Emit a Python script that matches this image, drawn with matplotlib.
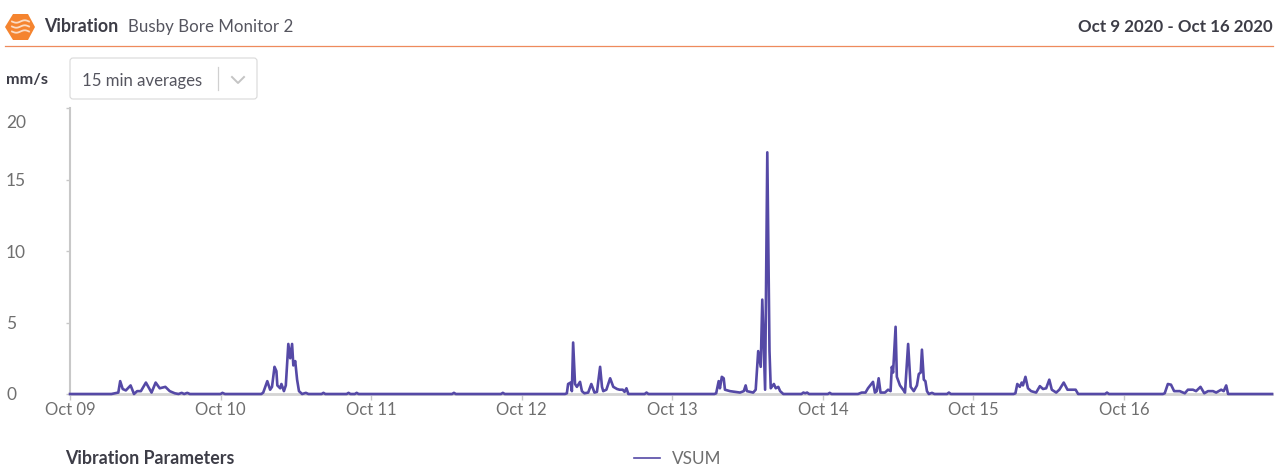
# plot.py - vibration monitor chart

import numpy as np
import pandas as pd
import matplotlib
matplotlib.use("Agg")
import matplotlib.pyplot as plt
import matplotlib.dates as mdates
from matplotlib.patches import FancyBboxPatch, Polygon
from matplotlib.transforms import ScaledTranslation

plt.rcParams["font.family"] = ["Lato", "DejaVu Sans"]

# hours since Oct 09 00:00
hours_day1 = [0, 6.6, 7.7, 8.0, 8.4, 8.9, 9.66, 10.2, 10.7, 11.3, 12.1, 12.75, 13.0, 13.65,
              14.3, 15.2, 15.9, 16.7, 17.3, 17.8, 18.2, 18.7, 19.1]
vsum_day1 = [0, 0, 0.1, 0.9, 0.35, 0.25, 0.6, 0, 0.2, 0.2, 0.8, 0.3, 0.1, 0.8,
             0.4, 0.5, 0.2, 0.05, 0, 0.08, 0, 0.08, 0]

hours_day2 = [24.0, 24.3, 24.7, 30.5, 30.8, 31.45, 31.9, 32.2, 32.6, 32.9, 33.05, 33.5, 33.7, 34.1,
              34.4, 34.8, 35.1, 35.4, 35.6, 35.9, 36.2, 36.5, 37.0, 37.6, 38.0, 40.1, 40.4, 40.7,
              44.1, 44.4, 44.7, 45.4, 45.7, 46.0]
vsum_day2 = [0, 0.08, 0, 0, 0.1, 0.9, 0.3, 0.5, 1.9, 1.6, 0.6, 0.4, 0.7, 0.2,
             0.6, 3.5, 2.5, 3.5, 2.0, 2.3, 1.0, 0.2, 0, 0.08, 0, 0, 0.08, 0,
             0, 0.08, 0, 0, 0.08, 0]

hours_day3 = [60.9, 61.2, 61.5, 68.7, 69.0, 69.3, 78.9, 79.2, 79.4, 79.8, 80.0, 80.2, 80.5, 80.8,
              81.3, 81.6, 82.0, 82.6, 83.1, 83.6, 84.0, 84.5, 84.8, 85.0, 85.5, 86.1, 86.6, 87.2,
              87.6, 88.1, 88.4, 88.7, 89.0, 91.6, 91.9, 92.2]
vsum_day3 = [0, 0.08, 0, 0, 0.08, 0, 0, 0.05, 0.7, 0.8, 0.2, 3.6, 0.7, 0.5,
             0.85, 0.2, 0.05, 0.1, 0.7, 0.1, 0.15, 1.9, 0.5, 0.2, 0.3, 1.1, 0.5, 0.35,
             0.3, 0.3, 0.15, 0.4, 0, 0, 0.1, 0]

hours_day4 = [102.7, 103.0, 103.4, 103.6, 103.9, 104.2, 104.4, 105.2, 106.8, 107.4, 107.7, 107.9,
              108.9, 109.3, 109.7, 110.1, 110.35, 110.8, 111.15, 111.5, 111.7, 112.2, 112.5,
              112.9, 113.2, 113.7, 116.6, 116.9, 117.2, 117.5, 117.8, 120.8, 121.1, 121.4]
vsum_day4 = [0, 0.05, 0.9, 0.4, 1.2, 1.1, 0.3, 0.2, 0.1, 0.2, 0.6, 0.2,
             0.1, 0.3, 3.0, 1.9, 6.6, 0.3, 16.9, 3.0, 0.4, 0.7, 0.4,
             0.5, 0.2, 0, 0, 0.1, 0.05, 0.1, 0, 0, 0.08, 0]

hours_day5 = [125.6, 125.9, 126.2, 126.8, 127.2, 128.0, 128.3, 128.6, 128.9, 129.2, 129.9, 130.4,
              130.8, 131.0, 131.2, 131.6, 131.8, 132.3, 132.8, 133.1, 133.6, 134.0, 134.5, 135.0,
              135.3, 135.6, 135.8, 136.1, 136.35, 136.6, 136.9, 137.4, 137.8, 139.8, 140.1, 140.4]
vsum_day5 = [0, 0.05, 0.1, 0.1, 0.4, 0.85, 0.1, 0.2, 1.1, 0.1, 0.1, 0.3,
             0.2, 1.9, 1.5, 4.7, 1.2, 0.6, 0.3, 0.1, 3.5, 0.5, 0.2, 0.6,
             1.4, 1.5, 3.1, 1.0, 0.9, 0.2, 0, 0.08, 0, 0, 0.1, 0]

hours_day6 = [150.4, 150.7, 151.0, 151.4, 151.7, 151.9, 152.3, 152.7, 153.2, 154.0, 154.6, 155.1,
              155.6, 156.1, 156.5, 157.2, 157.7, 158.4, 159.0, 159.6, 160.3, 160.7, 165.0, 165.3, 165.6]
vsum_day6 = [0, 0.05, 0.7, 0.5, 0.8, 0.6, 1.2, 0.4, 0.2, 0.1, 0.55, 0.35,
             0.4, 1.0, 0.3, 0.1, 0.3, 0.8, 0.3, 0.3, 0.3, 0, 0, 0.1, 0]

hours_day7 = [174.2, 174.5, 175.0, 175.5, 176.0, 176.9, 177.7, 178.2, 179.0, 179.5, 180.2, 180.8,
              181.4, 182.2, 182.7, 183.5, 183.9, 184.3, 184.6, 191.6]
vsum_day7 = [0, 0.05, 0.7, 0.65, 0.2, 0.2, 0.05, 0.3, 0.3, 0.2, 0.5, 0.05,
             0.2, 0.2, 0.1, 0.3, 0.2, 0.6, 0, 0]

hours = hours_day1 + hours_day2 + hours_day3 + hours_day4 + hours_day5 + hours_day6 + hours_day7
vsum = vsum_day1 + vsum_day2 + vsum_day3 + vsum_day4 + vsum_day5 + vsum_day6 + vsum_day7

day_ticks = ["2020-10-09", "2020-10-10", "2020-10-11", "2020-10-12",
             "2020-10-13", "2020-10-14", "2020-10-15", "2020-10-16"]
y_ticks = [0, 5, 10, 15, 20]

W, H = 1283, 466
LINE = "#5549a6"
AXIS = "#c8c8c8"
TICK_TEXT = "#6f6f6f"
DARK = "#3d3d47"

start = pd.Timestamp(day_ticks[0])
times = start + pd.to_timedelta(hours, unit="h")
t_end = start + pd.Timedelta(hours=hours[-1])

fig = plt.figure(figsize=(W / 100, H / 100), dpi=100)
fig.patch.set_facecolor("white")

ax = fig.add_axes([70 / W, 1 - 394 / H, (1272 - 70) / W, (394 - 108) / H])
ax.plot(times, vsum, color=LINE, lw=1.9, solid_joinstyle="round", zorder=3, clip_on=False)
ax.set_xlim(start, t_end)
ax.set_ylim(0, 20)

ax.set_xticks(pd.to_datetime(day_ticks))
ax.xaxis.set_major_formatter(mdates.DateFormatter("%b %d"))
ax.set_yticks(y_ticks)
ax.tick_params(axis="x", length=4.5, width=1, color=AXIS, labelsize=12, labelcolor=TICK_TEXT, pad=1)
ax.tick_params(axis="y", length=3, width=1, color=AXIS, labelsize=12.5, labelcolor=TICK_TEXT, pad=43)

for spine in ["top", "right"]:
    ax.spines[spine].set_visible(False)
ax.spines["left"].set_color(AXIS)
ax.spines["left"].set_linewidth(1.5)
ax.spines["bottom"].set_color("#d4d4d4")
ax.spines["bottom"].set_linewidth(2)

# value labels are left aligned, the top one sits lower than its tick
for value, label in zip(y_ticks, ax.get_yticklabels()):
    label.set_ha("left")
    if value == 20:
        label.set_transform(label.get_transform() + ScaledTranslation(0, -13 / 100, fig.dpi_scale_trans))

# page furniture in pixel coordinates
page = fig.add_axes([0, 0, 1, 1], zorder=5)
page.set_xlim(0, W)
page.set_ylim(H, 0)
page.axis("off")
page.patch.set_alpha(0)

page.add_patch(Polygon([(5, 27), (13, 14), (28, 14), (35, 27), (28, 40), (13, 40)],
                       closed=True, color="#f5842f", lw=0))
wave_x = np.linspace(12, 29, 40)
for wave_y in [21.5, 26.5, 31.5]:
    page.plot(wave_x, wave_y + np.sin((wave_x - 12) / 17 * 2 * np.pi) * 1.2, color="#fbdcc4", lw=1.3)

page.text(44, 27, "Vibration", fontsize=12.8, fontweight="bold", color=DARK, va="center")
page.text(128, 27, "Busby Bore Monitor 2", fontsize=12.15, color="#55555f", va="center")
page.text(1273, 27, "Oct 9 2020 - Oct 16 2020", fontsize=12.15, fontweight="bold", color=DARK,
          va="center", ha="right")
page.plot([5, 1273], [45.5, 45.5], color="#ee8a5c", lw=0.9)

page.text(6, 80, "mm/s", fontsize=11.7, fontweight="bold", color=DARK, va="center")
page.add_patch(FancyBboxPatch((70, 58), 187, 41, boxstyle="round,pad=0,rounding_size=3",
                              fc="white", ec="#d9d9d9", lw=0.8))
page.text(82, 81, "15 min averages", fontsize=12.1, color="#55555f", va="center")
page.plot([218, 218], [67, 90], color="#d0d0d0", lw=0.9)
page.plot([232, 238, 244], [77, 83, 77], color="#c4c4c4", lw=1.4)

page.text(65, 459, "Vibration Parameters", fontsize=12.8, fontweight="bold", color=DARK, va="center")
page.plot([634, 660], [458, 458], color=LINE, lw=1.2)
page.text(672, 459, "VSUM", fontsize=12.3, color=TICK_TEXT, va="center")

fig.savefig("out.png", dpi=100)
